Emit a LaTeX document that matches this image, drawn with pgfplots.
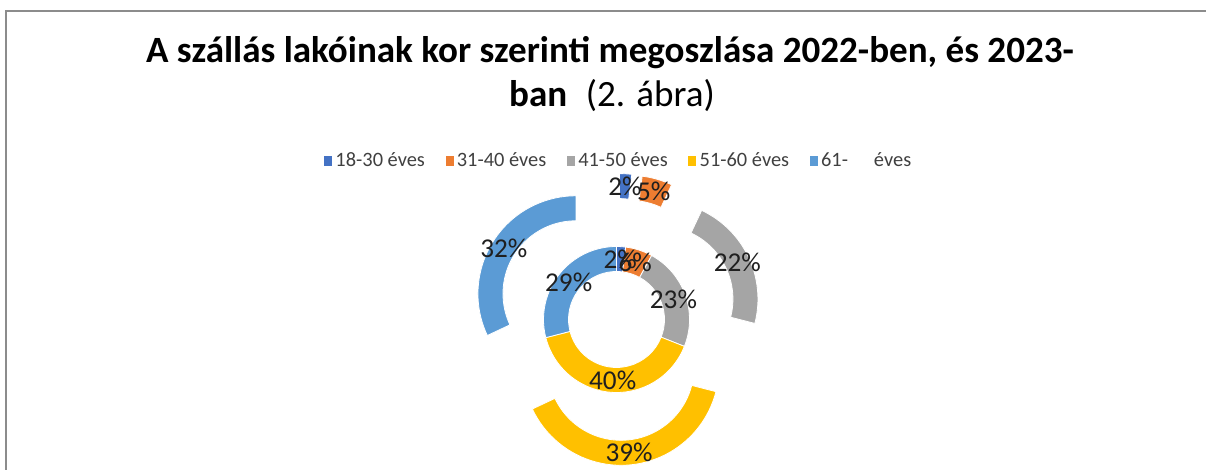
\documentclass[border=0pt]{standalone}
\usepackage{fontspec}
\setmainfont{Carlito}
\usepackage{pgfplots}
\usepackage{pgfplotstable}
\pgfplotsset{compat=1.18}
\definecolor{c0}{HTML}{4472C4}
\definecolor{c1}{HTML}{ED7D31}
\definecolor{c2}{HTML}{A5A5A5}
\definecolor{c3}{HTML}{FFC000}
\definecolor{c4}{HTML}{5B9BD5}
\definecolor{lbl}{HTML}{1F1F1F}
\definecolor{legtxt}{HTML}{404040}
\definecolor{frame}{HTML}{8C8C8C}

% values in percent, 2022 (inner ring) and 2023 (outer ring, exploded)
\pgfplotstableread{
group inner outer
18-30 2 2
31-40 6 5
41-50 23 22
51-60 40 39
61- 29 32
}\agedata

% #1 column, #2 inner radius, #3 outer radius, #4 explosion (px)
\newcommand\ringsectors[4]{%
  \def\cum{0}%
  \pgfplotsforeachungrouped \i in {0,...,4}{%
    \pgfplotstablegetelem{\i}{#1}\of\agedata
    \let\val\pgfplotsretval
    \pgfmathsetmacro\sa{90-3.6*\cum}%
    \pgfmathsetmacro\newcum{\cum+\val}%
    \pgfmathsetmacro\sb{90-3.6*\newcum}%
    \pgfmathsetmacro\sm{(\sa+\sb)/2}%
    \begin{scope}[shift={(axis cs:616.5,150.5)},x=0.75pt,y=0.75pt]
      \fill[fill=c\i,draw=white,line width=0.6pt,shift={(\sm:#4)}]
        (\sa:#3) arc[start angle=\sa,end angle=\sb,radius=#3*0.75pt]
        -- (\sb:#2) arc[start angle=\sb,end angle=\sa,radius=#2*0.75pt] -- cycle;
    \end{scope}
    \let\cum\newcum
  }%
}
\newcommand\ringlabels[4]{%
  \def\cum{0}%
  \pgfplotsforeachungrouped \i in {0,...,4}{%
    \pgfplotstablegetelem{\i}{#1}\of\agedata
    \let\val\pgfplotsretval
    \pgfmathsetmacro\sa{90-3.6*\cum}%
    \pgfmathsetmacro\newcum{\cum+\val}%
    \pgfmathsetmacro\sb{90-3.6*\newcum}%
    \pgfmathsetmacro\sm{(\sa+\sb)/2}%
    \pgfmathsetmacro\rl{#4+(#2+#3)/2}%
    \begin{scope}[shift={(axis cs:616.5,150.5)},x=0.75pt,y=0.75pt]
      \node[text=lbl,font=\fontsize{20.4}{24}\selectfont,inner sep=0pt] at (\sm:\rl) {\val\%};
    \end{scope}
    \let\cum\newcum
  }%
}

\begin{document}
\begin{tikzpicture}
\begin{axis}[
  x=0.75pt, y=0.75pt,
  xmin=0, xmax=1206, ymin=0, ymax=470,
  hide axis, clip=false,
  legend columns=5,
  legend image code/.code={\fill[#1,draw=none] (0pt,-3.4pt) rectangle (6pt,3.4pt); \path[draw=none,fill=none] (0pt,-0.1pt) rectangle (6.5pt,0.1pt);},
  legend style={draw=none, fill=none, at={(axis cs:619,309)}, anchor=center,
    font=\fontsize{15.3}{18}\selectfont, text=legtxt,
    /tikz/every odd column/.append style={column sep=0pt},
    /tikz/every even column/.append style={column sep=13.5pt}},
]
\addlegendimage{fill=c0}\addlegendentry{18-30 éves}
\addlegendimage{fill=c1}\addlegendentry{31-40 éves}
\addlegendimage{fill=c2}\addlegendentry{41-50 éves}
\addlegendimage{fill=c3}\addlegendentry{51-60 éves}
\addlegendimage{fill=c4}\addlegendentry{61-\hspace{16pt} éves}
\pgfplotsextra{%
  \ringsectors{inner}{48}{73}{0}
  \ringsectors{outer}{73}{98}{48}
  \ringlabels{inner}{48}{73}{0}
  \ringlabels{outer}{73}{98}{48}
  \draw[frame,line width=1.5pt] (axis cs:6,-20) -- (axis cs:6,459) -- (axis cs:1230,459);
  \node[anchor=base,font=\bfseries\fontsize{27.8}{32}\selectfont] at (axis cs:610,407) {A szállás lakóinak kor szerinti megoszlása 2022-ben, és 2023-};
  \node[anchor=base,font=\fontsize{27.8}{32}\selectfont] at (axis cs:612,363) {\textbf{ban}\enspace(2. ábra)};
  \coordinate (SW) at (axis cs:0,0);
  \coordinate (NE) at (axis cs:1206,470);
}
\end{axis}
\pgfresetboundingbox
\useasboundingbox (SW) rectangle (NE);
\end{tikzpicture}
\end{document}
